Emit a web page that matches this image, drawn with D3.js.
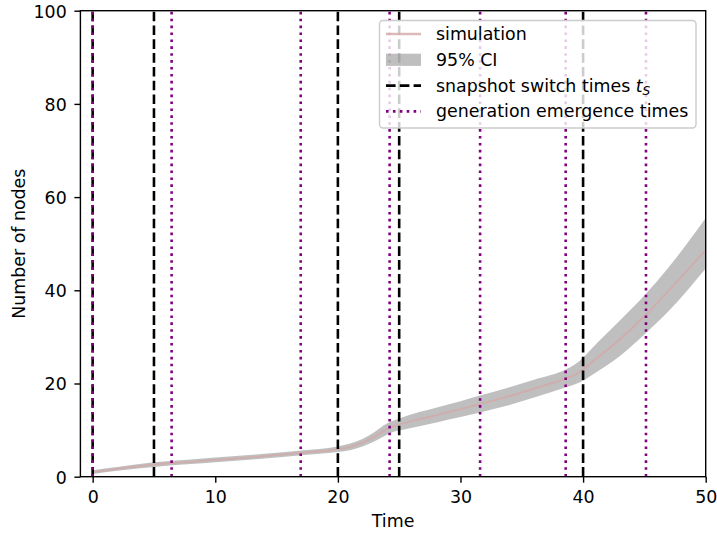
<!DOCTYPE html>
<html>
<head>
<meta charset="utf-8">
<script src="https://cdn.jsdelivr.net/npm/d3@7"></script>
<style>
  html, body { margin: 0; padding: 0; background: #fff; }
  svg { display: block; font-family: "DejaVu Sans", sans-serif; }
</style>
</head>
<body>
<svg id="chart" width="717" height="533"></svg>
<script>
// Simulated node counts over time: mean and 95% confidence band
const time  = [0, 2, 5, 8, 10, 14, 17, 20, 21, 22, 23, 24, 24.5, 25, 28.3, 30, 31.6, 34, 36, 38.6, 39.3, 40, 40.6, 43, 45.1, 47, 50];
const mean  = [1.0, 1.7, 2.6, 3.2, 3.6, 4.4, 5.1, 5.9, 6.4, 7.3, 8.6, 10.2, 10.8, 11.2, 13.4, 14.5, 15.6, 17.3, 18.9, 21.1, 21.8, 23.0, 24.3, 29.5, 34.7, 40.0, 48.6];
const lower = [0.6, 1.3, 2.1, 2.7, 3.1, 3.9, 4.6, 5.3, 5.7, 6.5, 7.6, 9.0, 9.6, 9.9, 11.8, 12.8, 13.8, 15.4, 17.0, 19.2, 19.8, 20.6, 21.6, 25.9, 30.8, 35.6, 44.7];
const upper = [1.4, 2.1, 3.1, 3.7, 4.1, 4.9, 5.6, 6.5, 7.1, 8.1, 9.6, 11.4, 12.0, 12.5, 15.0, 16.2, 17.4, 19.2, 20.8, 23.0, 24.0, 25.5, 27.2, 33.5, 39.2, 45.0, 55.5];

// Vertical markers
const switchTimes = [0, 5, 20, 25, 40];
const emergenceTimes = [0, 6.44, 16.97, 24.22, 31.6, 38.58, 45.13];

// Axis ticks
const xTicks = [0, 10, 20, 30, 40, 50];
const yTicks = [0, 20, 40, 60, 80, 100];

const legendLabels = ["simulation", "95% CI", "snapshot switch times ", "generation emergence times"];

const FONT = 17.4;
const plot = { left: 80.4, right: 705.7, top: 10.7, bottom: 476.7 };

const svg = d3.select("#chart");
const x = d3.scaleLinear().domain([-1, 50]).range([plot.left, plot.right]);
const y = d3.scaleLinear().domain([0, 100]).range([plot.bottom, plot.top]);

svg.append("defs").append("clipPath").attr("id", "plot-clip")
  .append("rect")
  .attr("x", plot.left).attr("y", plot.top)
  .attr("width", plot.right - plot.left).attr("height", plot.bottom - plot.top);

const g = svg.append("g").attr("clip-path", "url(#plot-clip)");

const rows = time.map((t, i) => ({ t, m: mean[i], lo: lower[i], hi: upper[i] }));

// confidence band
g.append("path")
  .datum(rows)
  .attr("fill", "#808080")
  .attr("fill-opacity", 0.5)
  .attr("d", d3.area().curve(d3.curveMonotoneX)
    .x(d => x(d.t)).y0(d => y(d.lo)).y1(d => y(d.hi)));

// mean trajectory
g.append("path")
  .datum(rows)
  .attr("fill", "none")
  .attr("stroke", "#d4a8a8")
  .attr("stroke-opacity", 0.8)
  .attr("stroke-width", 1.8)
  .attr("d", d3.line().curve(d3.curveMonotoneX).x(d => x(d.t)).y(d => y(d.m)));

// snapshot switch times
g.selectAll("line.switch").data(switchTimes).join("line")
  .attr("class", "switch")
  .attr("x1", d => x(d)).attr("x2", d => x(d))
  .attr("y1", plot.bottom).attr("y2", plot.top)
  .attr("stroke", "#000").attr("stroke-width", 2.6)
  .attr("stroke-dasharray", "9.6,4.2");

// generation emergence times
g.selectAll("line.emerge").data(emergenceTimes).join("line")
  .attr("class", "emerge")
  .attr("x1", d => x(d)).attr("x2", d => x(d))
  .attr("y1", plot.bottom).attr("y2", plot.top)
  .attr("stroke", "#800080").attr("stroke-width", 2.6)
  .attr("stroke-dasharray", "2.6,4.3");

// axes
const xAxis = svg.append("g")
  .attr("transform", `translate(0,${plot.bottom})`)
  .call(d3.axisBottom(x).tickValues(xTicks).tickSize(6).tickSizeOuter(0).tickPadding(0));
const yAxis = svg.append("g")
  .attr("transform", `translate(${plot.left},0)`)
  .call(d3.axisLeft(y).tickValues(yTicks).tickSize(6).tickSizeOuter(0).tickPadding(0));

[xAxis, yAxis].forEach(a => {
  a.select(".domain").remove();
  a.selectAll(".tick line").attr("stroke", "#000").attr("stroke-width", 1.4);
  a.selectAll(".tick text")
    .attr("fill", "#000")
    .style("font-family", "DejaVu Sans")
    .style("font-size", FONT + "px");
});
xAxis.selectAll(".tick text").attr("y", 26.6).attr("dy", null);
yAxis.selectAll(".tick text").attr("x", -13.7).attr("dy", "0.365em");

// frame
svg.append("rect")
  .attr("x", plot.left).attr("y", plot.top)
  .attr("width", plot.right - plot.left).attr("height", plot.bottom - plot.top)
  .attr("fill", "none").attr("stroke", "#000").attr("stroke-width", 1.4);

// axis titles
svg.append("text")
  .attr("x", (plot.left + plot.right) / 2).attr("y", 526.5)
  .attr("text-anchor", "middle")
  .style("font-size", FONT + "px")
  .text("Time");
svg.append("text")
  .attr("transform", `translate(25,${(plot.top + plot.bottom) / 2}) rotate(-90)`)
  .attr("text-anchor", "middle")
  .style("font-size", FONT + "px")
  .text("Number of nodes");

// legend
const lg = svg.append("g");
lg.append("rect")
  .attr("x", 379.5).attr("y", 20.5).attr("width", 316.5).attr("height", 107.5)
  .attr("rx", 3.5).attr("ry", 3.5)
  .attr("fill", "#fff").attr("fill-opacity", 0.8)
  .attr("stroke", "#cccccc").attr("stroke-width", 1.4);

const hx0 = 386, hx1 = 421, tx = 436;
const baselines = [40, 65.8, 91.6, 117.4];
const mid = i => baselines[i] - 6;

lg.append("line").attr("x1", hx0).attr("x2", hx1).attr("y1", mid(0)).attr("y2", mid(0))
  .attr("stroke", "#d4a8a8").attr("stroke-opacity", 0.8).attr("stroke-width", 2.6);
lg.append("rect").attr("x", hx0).attr("y", mid(1) - 6.1).attr("width", hx1 - hx0).attr("height", 12.2)
  .attr("fill", "#808080").attr("fill-opacity", 0.5);
lg.append("line").attr("x1", hx0).attr("x2", hx1).attr("y1", mid(2)).attr("y2", mid(2))
  .attr("stroke", "#000").attr("stroke-width", 2.6).attr("stroke-dasharray", "9.6,4.2");
lg.append("line").attr("x1", hx0).attr("x2", hx1).attr("y1", mid(3)).attr("y2", mid(3))
  .attr("stroke", "#800080").attr("stroke-width", 2.6).attr("stroke-dasharray", "2.6,4.3");

legendLabels.forEach((label, i) => {
  const t = lg.append("text")
    .attr("x", tx).attr("y", baselines[i])
    .style("font-size", FONT + "px")
    .text(label);
  if (i === 2) {
    t.append("tspan").style("font-style", "italic").text("t");
    t.append("tspan").style("font-style", "italic")
      .style("font-size", (FONT * 0.7) + "px")
      .attr("dy", 3.5).text("S");
  }
});
</script>
</body>
</html>
